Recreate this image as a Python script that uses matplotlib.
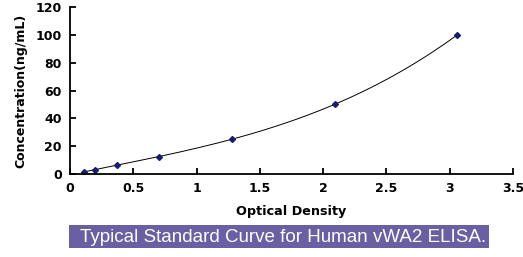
import numpy as np
import matplotlib
matplotlib.use("Agg")
import matplotlib.pyplot as plt
from matplotlib.patches import Rectangle

od = [0.11, 0.20, 0.37, 0.70, 1.28, 2.09, 3.06]
conc = [1.56, 3.12, 6.25, 12.5, 25, 50, 100]
xticks = [0, 0.5, 1, 1.5, 2, 2.5, 3, 3.5]
xtick_labels = ["0", "0.5", "1", "1.5", "2", "2.5", "3", "3.5"]
yticks = [0, 20, 40, 60, 80, 100, 120]

plt.rcParams['font.family'] = ['DejaVu Sans']

fig = plt.figure(figsize=(5.23, 2.57), dpi=100)
ax = fig.add_axes([70/523, 1-174/257, 443/523, 167/257])

coef = np.polyfit(od, conc, 3)
xs = np.linspace(min(od), max(od), 200)
ax.plot(xs, np.polyval(coef, xs), color='black', lw=0.7)
ax.plot(od, conc, linestyle='none', marker='D', markersize=3, color='#1a1a6e')

ax.set_xlim(0, 3.5)
ax.set_ylim(0, 120)
ax.set_xticks(xticks)
ax.set_xticklabels(xtick_labels)
ax.set_yticks(yticks)
for s in ['top', 'right']:
    ax.spines[s].set_visible(False)
for s in ['left', 'bottom']:
    ax.spines[s].set_linewidth(1.3)
ax.tick_params(direction='in', length=4, width=1.3, labelsize=9, pad=6)
for lab in ax.get_xticklabels() + ax.get_yticklabels():
    lab.set_fontweight('bold')
ax.set_xlabel('Optical Density', fontsize=9.2, fontweight='bold', labelpad=7)
ax.set_ylabel('Concentration(ng/mL)', fontsize=9, fontweight='bold', labelpad=6)

fig.patches.append(Rectangle((69/523, 1-248/257), 420/523, 23/257,
                             transform=fig.transFigure, facecolor='#6b5fa3',
                             edgecolor='none'))
fig.text(283/523, 1-237/257, 'Typical Standard Curve for Human vWA2 ELISA.',
         color='white', fontsize=13.5, ha='center', va='center',
         family='Liberation Sans')

fig.savefig('out.png', dpi=100)
